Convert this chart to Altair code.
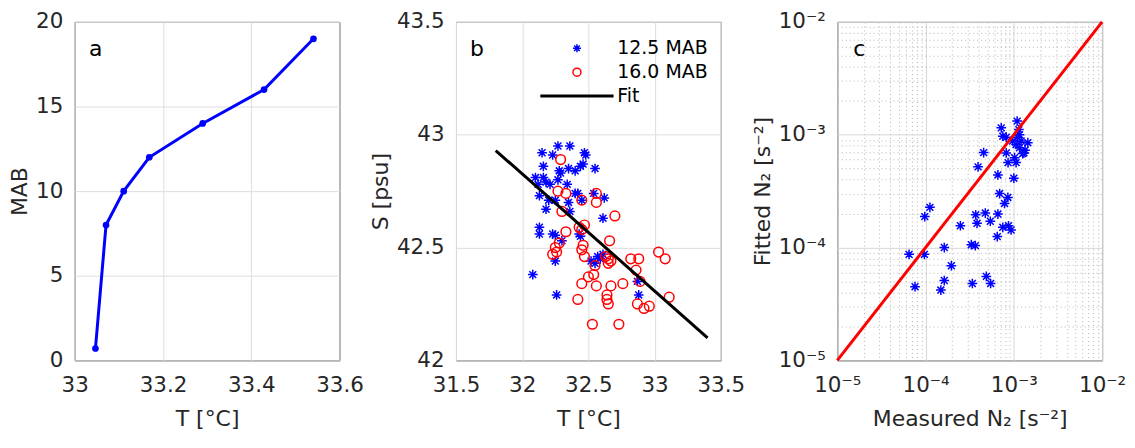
import altair as alt
import pandas as pd

FONT = "DejaVu Sans"
TXT = "#262626"
BLUE = "#0000ff"
RED = "#ff0000"

# ---------------- Panel a : temperature profile ----------------
a_T = [33.047, 33.071, 33.111, 33.169, 33.290, 33.429, 33.541]
a_MAB = [0.7, 8.0, 10.0, 12.0, 14.0, 16.0, 19.0]

# ---------------- Panel b : T-S scatter ----------------
b_T_125 = [32.15, 32.27, 32.36, 32.23, 32.47, 32.48, 32.16, 32.28, 32.29, 32.35,
           32.40, 32.44, 32.46, 32.55, 32.10, 32.12, 32.16, 32.18, 32.21, 32.27,
           32.34, 32.40, 32.42, 32.13, 32.20, 32.25, 32.54, 32.62, 32.35, 32.36,
           32.18, 32.61, 32.13, 32.13, 32.23, 32.25, 32.30, 32.43, 32.44, 32.57,
           32.52, 32.55, 32.25, 32.08, 32.26, 32.87, 32.88, 32.45, 32.61, 32.59]
b_S_125 = [42.92, 42.95, 42.95, 42.91, 42.92, 42.91, 42.86, 42.84, 42.83, 42.85,
           42.84, 42.86, 42.87, 42.85, 42.81, 42.78, 42.81, 42.79, 42.78, 42.80,
           42.78, 42.74, 42.74, 42.73, 42.71, 42.71, 42.74, 42.72, 42.70, 42.66,
           42.67, 42.63, 42.59, 42.56, 42.56, 42.555, 42.53, 42.56, 42.55, 42.46,
           42.44, 42.43, 42.44, 42.38, 42.29, 42.35, 42.29, 42.71, 42.47, 42.45]
b_T_160 = [32.29, 32.27, 32.33, 32.45, 32.56, 32.56, 32.30, 32.70, 32.33, 32.43,
           32.45, 32.47, 32.28, 32.25, 32.23, 32.26, 32.45, 32.46, 32.47, 32.66,
           32.63, 32.65, 32.67, 32.65, 32.55, 32.82, 32.88, 33.03, 33.08, 32.50,
           32.54, 32.45, 32.56, 32.67, 32.76, 32.86, 32.89, 32.42, 32.64, 32.64,
           32.65, 32.87, 32.92, 32.96, 33.11, 32.53, 32.73]
b_S_160 = [42.89, 42.75, 42.74, 42.71, 42.74, 42.70, 42.66, 42.64, 42.57, 42.59,
           42.58, 42.60, 42.52, 42.50, 42.47, 42.48, 42.49, 42.51, 42.46, 42.53,
           42.46, 42.45, 42.44, 42.43, 42.42, 42.45, 42.45, 42.48, 42.45, 42.37,
           42.38, 42.34, 42.33, 42.33, 42.34, 42.40, 42.35, 42.27, 42.29, 42.27,
           42.25, 42.25, 42.23, 42.24, 42.28, 42.16, 42.16]
fit_T = [31.80, 33.40]
fit_S = [42.93, 42.10]
series_names = ["12.5 MAB", "16.0 MAB", "Fit"]

# ---------------- Panel c : measured vs fitted N2 ----------------
c_meas = [6.5e-5, 7.6e-5, 9.7e-5, 9.8e-5, 1.12e-4, 1.49e-4, 1.63e-4, 1.63e-4, 1.96e-4, 2.48e-4,
          3.3e-4, 3.66e-4, 3.39e-4, 3.7e-4, 3.83e-4, 3.93e-4, 4.55e-4, 4.75e-4, 5.41e-4, 4.88e-4,
          5.46e-4, 6.49e-4, 6.6e-4, 6.6e-4, 6.9e-4, 7.85e-4, 8.56e-4, 7.5e-4, 8.7e-4, 9.3e-4,
          7.2e-4, 7.5e-4, 8.2e-4, 8.2e-4, 8.6e-4, 1.0e-3, 1.06e-3, 9.7e-4, 1.09e-3, 1.14e-3,
          1.21e-3, 1.16e-3, 1.26e-3, 1.44e-3, 1.06e-3, 1.16e-3, 1.3e-3, 1.02e-3, 1.1e-3, 1.34e-3]
c_fit = [8.7e-5, 4.5e-5, 8.7e-5, 1.88e-4, 2.27e-4, 4.2e-5, 5.1e-5, 1.0e-4, 6.9e-5, 1.56e-4,
         1.06e-4, 1.04e-4, 4.8e-5, 1.95e-4, 1.64e-4, 5.19e-4, 6.94e-4, 2.02e-4, 1.71e-4, 5.55e-5,
         4.8e-5, 1.25e-4, 1.98e-4, 4.4e-4, 3.01e-4, 2.46e-4, 2.78e-4, 1.51e-4, 1.56e-4, 1.43e-4,
         1.15e-3, 9.7e-4, 9.5e-4, 6.9e-4, 5.66e-4, 4.12e-4, 5.66e-4, 8.8e-4, 1.32e-3, 1.11e-3,
         8.8e-4, 7.67e-4, 6.8e-4, 8.5e-4, 8.2e-4, 1.0e-3, 6.9e-4, 6.26e-4, 9.5e-4, 7.3e-4]
one_to_one = [1e-5, 1e-2]

log_major = [1e-5, 1e-4, 1e-3, 1e-2]
log_ticks = [m * 10.0 ** e for e in (-5, -4, -3) for m in range(1, 10)] + [1e-2]

PW, PH = 266, 340
SPACING = 117
STAR = "M0,-1L0,1M-1,0L1,0M-0.71,-0.71L0.71,0.71M-0.71,0.71L0.71,-0.71"
LEGEND_LINE = "M-9,-0.18L9,-0.18L9,0.18L-9,0.18Z"


def letter(ch, x):
    return alt.Chart(pd.DataFrame({"t": [ch]})).mark_text(
        font=FONT, fontSize=22, color="#000000", align="center", baseline="middle"
    ).encode(text="t:N", x=alt.value(x), y=alt.value(27))


# ---- panel a
df_a = pd.DataFrame({"T": a_T, "MAB": a_MAB})
pa = alt.Chart(df_a).mark_line(
    color=BLUE, strokeWidth=3,
    point=alt.OverlayMarkDef(filled=True, size=45, color=BLUE),
).encode(
    x=alt.X("T:Q", scale=alt.Scale(domain=[33, 33.6], nice=False),
            axis=alt.Axis(values=[33, 33.2, 33.4, 33.6], format=".4~g", title="T [°C]")),
    y=alt.Y("MAB:Q", scale=alt.Scale(domain=[0, 20], nice=False),
            axis=alt.Axis(values=[0, 5, 10, 15, 20], title="MAB")),
)
panel_a = alt.layer(pa, letter("a", 21)).properties(width=PW, height=PH)

# ---- panel b
df_b = pd.DataFrame({
    "T": b_T_125 + b_T_160,
    "S": b_S_125 + b_S_160,
    "series": [series_names[0]] * len(b_T_125) + [series_names[1]] * len(b_T_160),
})
df_fit = pd.DataFrame({"T": fit_T, "S": fit_S})
xb = alt.X("T:Q", scale=alt.Scale(domain=[31.5, 33.5], nice=False),
           axis=alt.Axis(values=[31.5, 32, 32.5, 33, 33.5], format=".4~g", title="T [°C]"))
yb = alt.Y("S:Q", scale=alt.Scale(domain=[42, 43.5], nice=False),
           axis=alt.Axis(values=[42, 42.5, 43, 43.5], format=".4~g", title="S [psu]"))
leg = alt.Legend(orient="none", legendX=PW + SPACING + 112, legendY=17, title=None,
                 labelFont=FONT, labelFontSize=19, labelColor="#000000",
                 labelOffset=31, symbolSize=64, rowPadding=4)
pts_b = alt.Chart(df_b).mark_point(filled=False, size=95, opacity=1).encode(
    x=xb, y=yb,
    color=alt.Color("series:N", scale=alt.Scale(domain=series_names, range=[BLUE, RED, "#000000"]),
                    legend=leg),
    shape=alt.Shape("series:N", scale=alt.Scale(domain=series_names, range=[STAR, "circle", LEGEND_LINE]),
                    legend=leg),
    strokeWidth=alt.StrokeWidth("series:N", scale=alt.Scale(domain=series_names, range=[1.5, 1.5, 1.5]),
                                legend=leg),
)
fit_b = alt.Chart(df_fit).mark_line(color="#000000", strokeWidth=3).encode(x="T:Q", y="S:Q")
panel_b = alt.layer(pts_b, fit_b, letter("b", 21)).properties(width=PW, height=PH)

# ---- panel c
major_test = "abs(log(datum.value)/LN10 - round(log(datum.value)/LN10)) < 0.001"
sup_expr = ("['⁰','¹','²','³','⁴','⁵','⁶'][round(-log(datum.value)/LN10)]")
log_label = f"({major_test}) ? '10⁻' + {sup_expr} : ''"
grid_dash = {"condition": {"test": major_test, "value": []}, "value": [1, 3]}
grid_col = {"condition": {"test": major_test, "value": "#d6d6d6"}, "value": "#b4b4b4"}


def log_axis(title):
    return alt.Axis(values=log_ticks, labelExpr=log_label, labelOverlap=False,
                    gridDash=grid_dash, gridColor=grid_col, title=title)


df_c = pd.DataFrame({"meas": c_meas, "fit": c_fit})
df_line = pd.DataFrame({"meas": one_to_one, "fit": one_to_one})
xc = alt.X("meas:Q", scale=alt.Scale(type="log", domain=[1e-5, 1e-2], nice=False),
           axis=log_axis("Measured N₂ [s⁻²]"))
yc = alt.Y("fit:Q", scale=alt.Scale(type="log", domain=[1e-5, 1e-2], nice=False),
           axis=log_axis("Fitted N₂ [s⁻²]"))
pts_c = alt.Chart(df_c).mark_point(filled=False, size=95, shape=STAR, color=BLUE,
                                   strokeWidth=1.5, opacity=1).encode(x=xc, y=yc)
line_c = alt.Chart(df_line).mark_line(color=RED, strokeWidth=3).encode(x="meas:Q", y="fit:Q")
panel_c = alt.layer(pts_c, line_c, letter("c", 22)).properties(width=PW, height=PH)

chart = alt.hconcat(panel_a, panel_b, panel_c, spacing=SPACING, bounds="flush").properties(
    padding={"left": 0, "top": 1, "right": 0, "bottom": 0}
).configure_axis(
    labelFont=FONT, titleFont=FONT, labelFontSize=21.5, titleFontSize=22,
    titleFontWeight="normal", labelColor=TXT, titleColor=TXT,
    gridColor="#dedede", gridWidth=1, domain=False, ticks=False, labelPadding=12,
    labelFlush=False,
).configure_axisX(labelPadding=14, titlePadding=13).configure_axisY(titlePadding=4).configure_view(
    stroke=TXT, strokeWidth=1
).configure_legend(labelFont=FONT)

chart.save("out.html", embed_options={"renderer": "svg", "actions": False})
